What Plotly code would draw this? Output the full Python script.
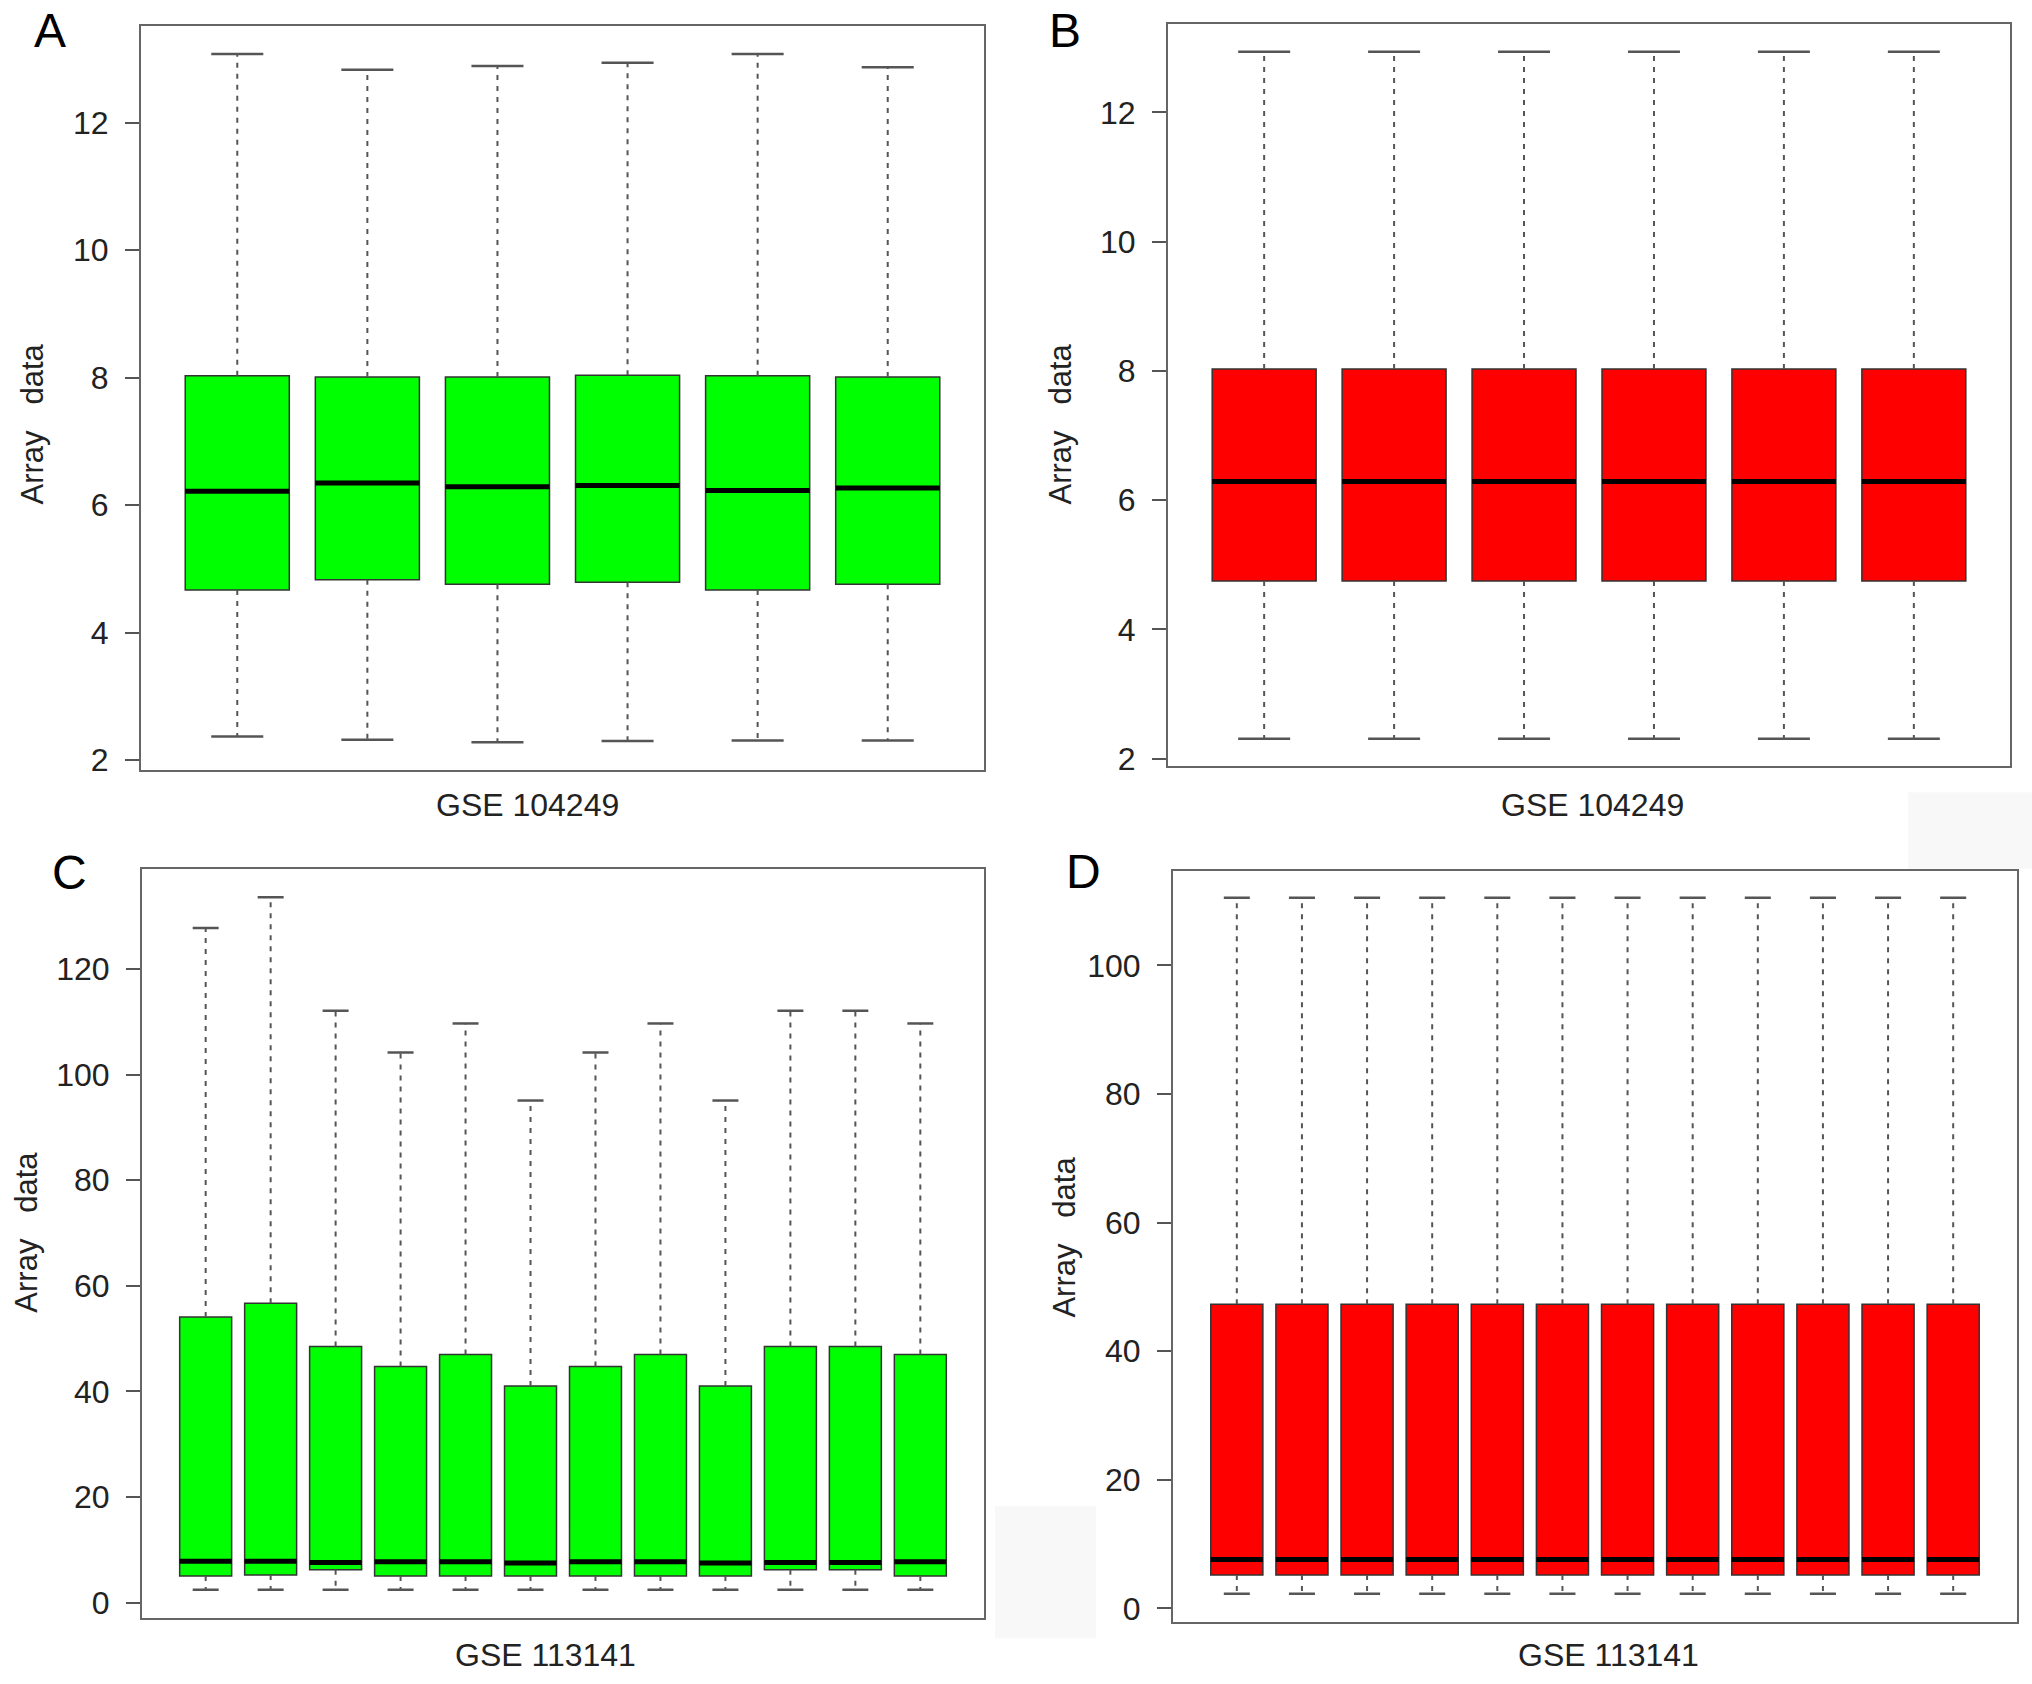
import plotly.graph_objects as go

W, H = 2032, 1684

# A: GSE 104249 before normalisation
a_upper = [13.08, 12.83, 12.89, 12.94, 13.08, 12.87]
a_q3 = [8.03, 8.01, 8.01, 8.04, 8.03, 8.01]
a_median = [6.22, 6.35, 6.29, 6.31, 6.23, 6.27]
a_q1 = [4.67, 4.83, 4.76, 4.79, 4.67, 4.76]
a_lower = [2.37, 2.32, 2.28, 2.30, 2.31, 2.31]

# B: GSE 104249 after normalisation
b_upper = [12.94, 12.94, 12.94, 12.94, 12.94, 12.94]
b_q3 = [8.03, 8.03, 8.03, 8.03, 8.03, 8.03]
b_median = [6.29, 6.29, 6.29, 6.29, 6.29, 6.29]
b_q1 = [4.75, 4.75, 4.75, 4.75, 4.75, 4.75]
b_lower = [2.31, 2.31, 2.31, 2.31, 2.31, 2.31]

# C: GSE 113141 before normalisation
c_upper = [127.8, 133.6, 112.1, 104.2, 109.7, 95.1, 104.2, 109.7, 95.1, 112.1, 112.1, 109.7]
c_q3 = [54.1, 56.7, 48.5, 44.7, 47.0, 41.0, 44.7, 47.0, 41.0, 48.5, 48.5, 47.0]
c_median = [7.8, 7.8, 7.6, 7.7, 7.7, 7.5, 7.7, 7.7, 7.5, 7.6, 7.6, 7.7]
c_q1 = [5.0, 5.2, 6.2, 5.0, 5.0, 5.0, 5.0, 5.0, 5.0, 6.2, 6.2, 5.0]
c_lower = [2.4, 2.4, 2.4, 2.4, 2.4, 2.4, 2.4, 2.4, 2.4, 2.4, 2.4, 2.4]

# D: GSE 113141 after normalisation
d_upper = [110.5, 110.5, 110.5, 110.5, 110.5, 110.5, 110.5, 110.5, 110.5, 110.5, 110.5, 110.5]
d_q3 = [47.3, 47.3, 47.3, 47.3, 47.3, 47.3, 47.3, 47.3, 47.3, 47.3, 47.3, 47.3]
d_median = [7.6, 7.6, 7.6, 7.6, 7.6, 7.6, 7.6, 7.6, 7.6, 7.6, 7.6, 7.6]
d_q1 = [5.2, 5.2, 5.2, 5.2, 5.2, 5.2, 5.2, 5.2, 5.2, 5.2, 5.2, 5.2]
d_lower = [2.3, 2.3, 2.3, 2.3, 2.3, 2.3, 2.3, 2.3, 2.3, 2.3, 2.3, 2.3]

a_ticks = [2, 4, 6, 8, 10, 12]
b_ticks = [2, 4, 6, 8, 10, 12]
c_ticks = [0, 20, 40, 60, 80, 100, 120]
d_ticks = [0, 20, 40, 60, 80, 100]

FONT = "Liberation Sans, Arial, sans-serif"


def px(x):
    return x / W


def py(y):
    return 1 - y / H


# (letter, dataset, colour, data, ticks, y range, frame in px: left, top, right, bottom)
panels = [
    ("A", "GSE 104249", "#00ff00", (a_lower, a_q1, a_median, a_q3, a_upper), a_ticks,
     [1.84, 13.52], (141, 26, 984, 775)),
    ("B", "GSE 104249", "#ff0000", (b_lower, b_q1, b_median, b_q3, b_upper), b_ticks,
     [1.88, 13.37], (1168, 24, 2010, 771)),
    ("C", "GSE 113141", "#00ff00", (c_lower, c_q1, c_median, c_q3, c_upper), c_ticks,
     [-3.0, 139.0], (142, 874, 984, 1628)),
    ("D", "GSE 113141", "#ff0000", (d_lower, d_q1, d_median, d_q3, d_upper), d_ticks,
     [-2.16, 114.7], (1173, 876, 2017, 1632)),
]

# label positions in px
letter_pos = [(50, 31), (1065, 31), (69, 878), (1083, 877)]
xlab_pos = [(527, 810), (1592, 810), (545, 1665), (1608, 1665)]
ylab_pos = [(32, 427), (1060, 427), (27, 1240), (1065, 1245)]

fig = go.Figure()
layout = {}
annotations = []

for k, (letter, gse, color, stats, ticks, yrange, frame) in enumerate(panels):
    lower, q1, median, q3, upper = stats
    n = len(median)
    pos = list(range(1, n + 1))
    xa = "x" if k == 0 else f"x{k + 1}"
    ya = "y" if k == 0 else f"y{k + 1}"

    # dashed whiskers
    wx, wy = [], []
    for i in range(n):
        wx += [pos[i], pos[i], None, pos[i], pos[i], None]
        wy += [q3[i], upper[i], None, q1[i], lower[i], None]
    fig.add_trace(go.Scatter(x=wx, y=wy, mode="lines", xaxis=xa, yaxis=ya,
                             line=dict(color="#555555", width=2, dash="5px,6px"),
                             hoverinfo="skip", showlegend=False))

    # whisker caps
    cx, cy = [], []
    for i in range(n):
        cx += [pos[i] - 0.2, pos[i] + 0.2, None, pos[i] - 0.2, pos[i] + 0.2, None]
        cy += [upper[i], upper[i], None, lower[i], lower[i], None]
    fig.add_trace(go.Scatter(x=cx, y=cy, mode="lines", xaxis=xa, yaxis=ya,
                             line=dict(color="#555555", width=2.5),
                             hoverinfo="skip", showlegend=False))

    # boxes
    fig.add_trace(go.Box(x=pos, q1=q1, median=median, q3=q3,
                         lowerfence=q1, upperfence=q3, width=0.8,
                         fillcolor=color, line=dict(color="#333333", width=1.5),
                         xaxis=xa, yaxis=ya, hoverinfo="skip", showlegend=False))

    # thick median bars
    mx, my = [], []
    for i in range(n):
        mx += [pos[i] - 0.4, pos[i] + 0.4, None]
        my += [median[i], median[i], None]
    fig.add_trace(go.Scatter(x=mx, y=my, mode="lines", xaxis=xa, yaxis=ya,
                             line=dict(color="black", width=5),
                             hoverinfo="skip", showlegend=False))

    left, top, right, bottom = frame
    layout["xaxis" if k == 0 else f"xaxis{k + 1}"] = dict(
        domain=[px(left), px(right)], anchor=ya,
        range=[0.5 - 0.04 * n, n + 0.5 + 0.04 * n],
        showticklabels=False, ticks="", showgrid=False, zeroline=False,
        showline=True, mirror=True, linecolor="#666666", linewidth=2,
    )
    layout["yaxis" if k == 0 else f"yaxis{k + 1}"] = dict(
        domain=[py(bottom), py(top)], anchor=xa,
        range=yrange, tickvals=ticks, ticks="outside", ticklen=14, tickwidth=2,
        tickcolor="#555555", ticklabelstandoff=10,
        tickfont=dict(family=FONT, size=32, color="#222222"),
        showgrid=False, zeroline=False,
        showline=True, mirror=True, linecolor="#666666", linewidth=2,
    )

    lx, ly = letter_pos[k]
    annotations.append(dict(text=letter, x=px(lx), y=py(ly), xref="paper", yref="paper",
                            showarrow=False, xanchor="center", yanchor="middle", borderpad=0,
                            font=dict(family=FONT, size=48, color="black")))
    gx, gy = xlab_pos[k]
    annotations.append(dict(text=gse, x=px(gx), y=py(gy), xref="paper", yref="paper",
                            showarrow=False, xanchor="center", yanchor="middle",
                            font=dict(family=FONT, size=32, color="#222222")))
    tx, ty = ylab_pos[k]
    annotations.append(dict(text="Array&nbsp;&nbsp;&nbsp;data", x=px(tx), y=py(ty),
                            xref="paper", yref="paper", textangle=-90,
                            showarrow=False, xanchor="center", yanchor="middle",
                            font=dict(family=FONT, size=31, color="#222222")))

# faint scan patches
shapes = [
    dict(type="rect", xref="paper", yref="paper", x0=px(1908), x1=1.0,
         y0=py(874), y1=py(797), fillcolor="#f8f8f8", line=dict(width=0), layer="below"),
    dict(type="rect", xref="paper", yref="paper", x0=px(995), x1=px(1096),
         y0=py(1648), y1=py(1515), fillcolor="#f8f8f8", line=dict(width=0), layer="below"),
]

fig.update_layout(
    width=W, height=H,
    margin=dict(l=0, r=0, t=0, b=0),
    paper_bgcolor="white", plot_bgcolor="rgba(0,0,0,0)",
    showlegend=False,
    annotations=annotations,
    shapes=shapes,
    **layout,
)

# drop the default page margin so the figure fills the window exactly
fig.write_html("out.html", config={"displayModeBar": False}, post_script=(
    "document.body.style.margin='0px';"
    "document.body.style.overflow='hidden';"
    "document.documentElement.style.overflow='hidden';"
))
